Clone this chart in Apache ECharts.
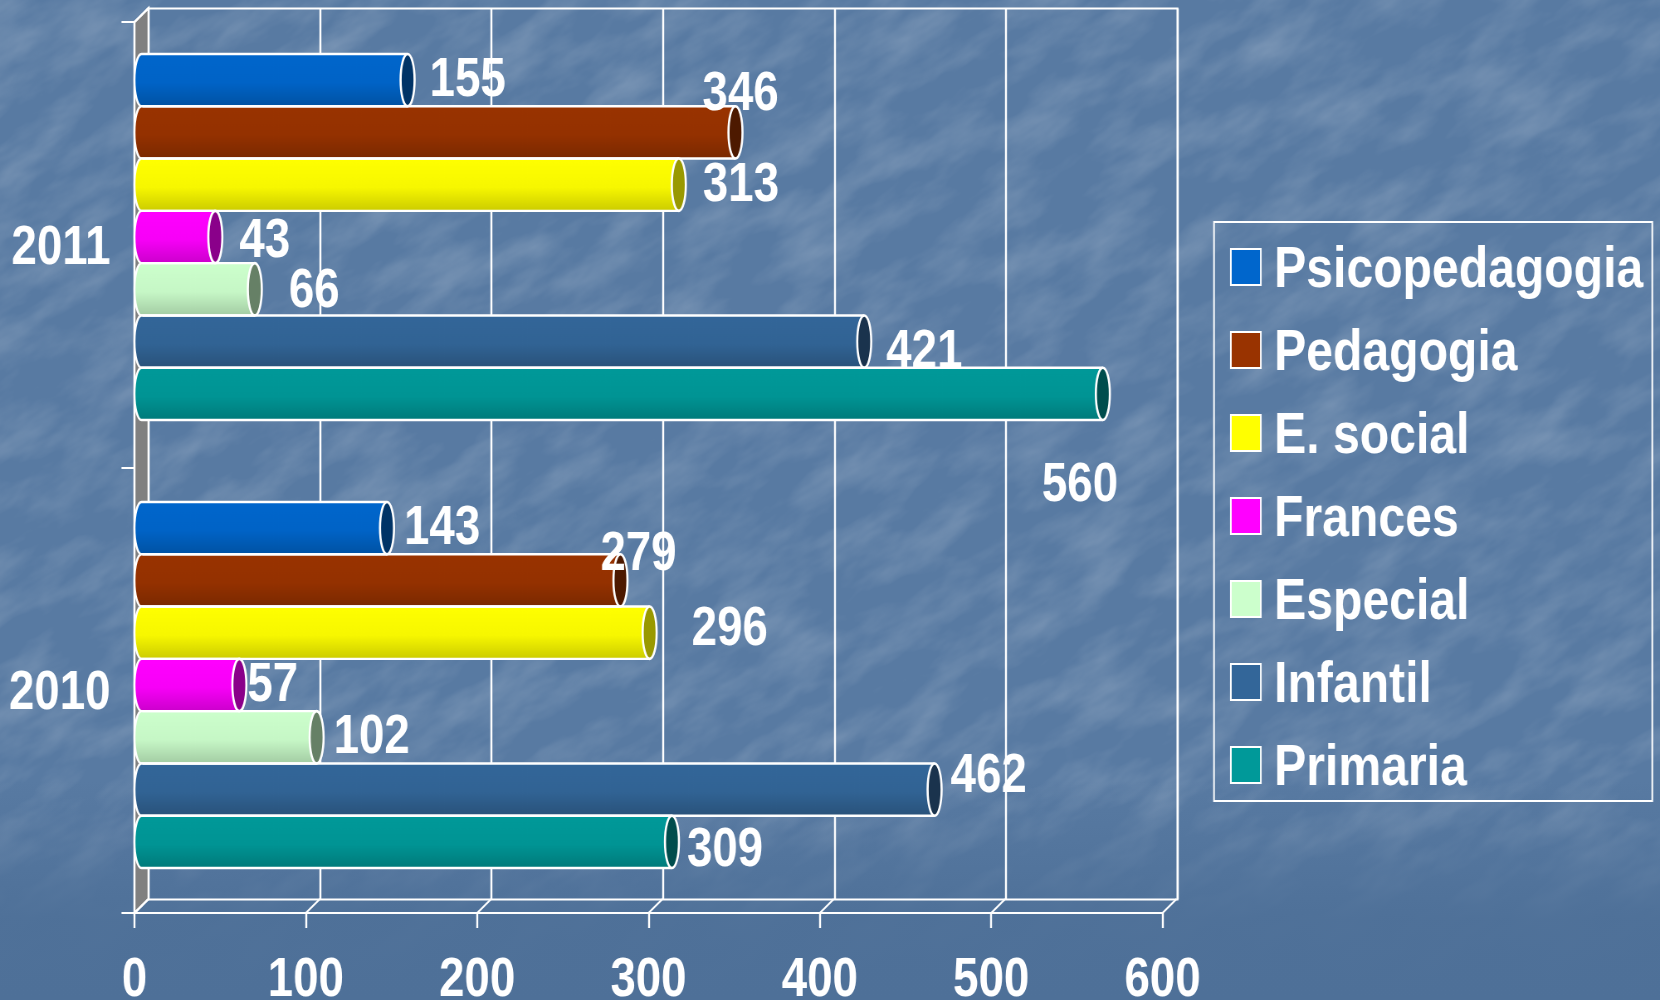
<!DOCTYPE html>
<html>
<head>
<meta charset="utf-8">
<style>
  html, body { margin: 0; padding: 0; width: 1660px; height: 1000px; overflow: hidden; background: #587aa2; }
  #bg { position: absolute; left: 0; top: 0; }
  #fade { position: absolute; left: 0; top: 0; width: 1660px; height: 1000px;
    background: linear-gradient(to bottom, rgba(78,112,152,0) 0%, rgba(78,112,152,0) 78%, rgba(78,112,152,0.95) 92%, #4e7098 100%); }
  /* el original esta comprimido en horizontal: 1660 / 0.83 = 2000 */
  #chart { position: absolute; left: 0; top: 0; width: 2000px; height: 1000px; transform: scaleX(0.83); transform-origin: 0 0; }
</style>
</head>
<body>
<!-- fondo con textura -->
<svg id="bg" width="1660" height="1000">
  <defs>
    <filter id="mottle" x="0" y="0" width="100%" height="100%">
      <feTurbulence type="fractalNoise" baseFrequency="0.012 0.03" numOctaves="4" seed="7"/>
      <feColorMatrix type="matrix" values="0 0 0 0 1  0 0 0 0 1  0 0 0 0 1  1.4 0 0 0 -0.55"/>
    </filter>
  </defs>
  <g transform="rotate(-32 830 500)">
    <rect x="-500" y="-700" width="2700" height="2400" filter="url(#mottle)" opacity="0.26"/>
  </g>
</svg>
<div id="fade"></div>
<div id="chart"></div>
<script src="https://cdn.jsdelivr.net/npm/echarts@6/dist/echarts.min.js"></script>
<script>
const years = ['2011', '2010']
const xTicks = [0, 100, 200, 300, 400, 500, 600]
const names = ['Psicopedagogia', 'Pedagogia', 'E. social', 'Frances', 'Especial', 'Infantil', 'Primaria']

// valores [2011, 2010]
const psicopedagogia = [155, 143]
const pedagogia = [346, 279]
const eSocial = [313, 296]
const frances = [43, 57]
const especial = [66, 102]
const infantil = [421, 462]
const primaria = [560, 309]
const values = [psicopedagogia, pedagogia, eSocial, frances, especial, infantil, primaria]

const colors = ['#0066cc', '#993300', '#ffff00', '#ff00ff', '#ccffcc', '#336699', '#009999']
const capColors = ['#003366', '#4d1900', '#999900', '#8a008a', '#668066', '#1a334d', '#004d4d']

// desplazamiento de cada etiqueta respecto al final de la barra
const labelDx = [[22, 17], [-33, -20], [24, 42], [24, 8], [34, 17], [22, 16], [-61, 15]]
const labelDy = [[1, 1], [-38, -26], [1, -3], [5, 1], [3, 1], [11, -13], [92, 9]]

const SX = 0.83
const px = x => x / SX // pixeles de pantalla a pixeles del lienzo
const BAR_H = 52.3
const CAP_RX = px(7)
const DEPTH = px(14)
const FONT = '"Liberation Sans", Arial, sans-serif'

function shade (hex, k) {
  const n = parseInt(hex.slice(1), 16)
  const c = [n >> 16, (n >> 8) & 255, n & 255].map(v => Math.round(v * k))
  return `rgb(${c[0]},${c[1]},${c[2]})`
}

function barFill (hex) {
  return new echarts.graphic.LinearGradient(0, 0, 0, 1, [
    { offset: 0, color: hex },
    { offset: 0.55, color: shade(hex, 0.97) },
    { offset: 1, color: shade(hex, 0.8) }
  ])
}

const rowOf = (s) => s - (names.length - 1) / 2

// extremos del cilindro: contorno y tapa
function renderCylinder (params, api) {
  const s = api.value(0)
  const cat = api.value(1)
  const p0 = api.coord([0, cat])
  const p1 = api.coord([api.value(2), cat])
  const cy = p0[1] + rowOf(s) * BAR_H
  const top = cy - BAR_H / 2
  const bot = cy + BAR_H / 2
  const edge = `M${p1[0]} ${top}L${p0[0]} ${top}A${CAP_RX} ${BAR_H / 2} 0 0 0 ${p0[0]} ${bot}L${p1[0]} ${bot}`
  return {
    type: 'group',
    children: [
      {
        type: 'path',
        shape: { pathData: `M${p0[0] + 1} ${top}L${p0[0]} ${top}A${CAP_RX} ${BAR_H / 2} 0 0 0 ${p0[0]} ${bot}L${p0[0] + 1} ${bot}Z`, x: p0[0] - CAP_RX, y: top, width: CAP_RX + 1, height: BAR_H },
        style: { fill: barFill(colors[s]), stroke: null }
      },
      {
        type: 'path',
        shape: { pathData: edge, x: p0[0] - CAP_RX, y: top, width: p1[0] - p0[0] + CAP_RX, height: BAR_H },
        style: { fill: null, stroke: '#ffffff', lineWidth: 2.4 }
      },
      {
        type: 'ellipse',
        shape: { cx: p1[0], cy: cy, rx: CAP_RX, ry: BAR_H / 2 },
        style: { fill: capColors[s], stroke: '#ffffff', lineWidth: 2.6 }
      }
    ]
  }
}

function renderValueLabel (params, api) {
  const s = api.value(0)
  const cat = api.value(1)
  const p0 = api.coord([0, cat])
  const p1 = api.coord([api.value(2), cat])
  return {
    type: 'text',
    style: {
      text: String(api.value(2)),
      x: p1[0] + px(labelDx[s][cat]),
      y: p0[1] + rowOf(s) * BAR_H + labelDy[s][cat],
      fill: '#ffffff',
      font: 'bold 55px ' + FONT,
      textAlign: 'left',
      textVerticalAlign: 'middle'
    }
  }
}

// pared izquierda gris
function renderWall (params, api) {
  const a = api.coord([0, 0])
  const b = api.coord([0, 1])
  return {
    type: 'polygon',
    shape: { points: [a, b, [b[0] + DEPTH, b[1] - 14], [a[0] + DEPTH, a[1] - 14]] },
    style: { fill: '#808080', stroke: '#ffffff', lineWidth: 2.4 }
  }
}

// lineas oblicuas del suelo y esquina superior
function renderSlant (params, api) {
  const p = api.coord([api.value(0), api.value(1)])
  return {
    type: 'line',
    shape: { x1: p[0], y1: p[1], x2: p[0] + DEPTH, y2: p[1] - 14 },
    style: { stroke: '#ffffff', lineWidth: 2.2 }
  }
}

const cylData = []
values.forEach((arr, s) => arr.forEach((v, c) => cylData.push([s, c, v])))

const barSeries = names.map((name, s) => ({
  name,
  type: 'bar',
  xAxisIndex: 2,
  yAxisIndex: 3,
  barWidth: BAR_H,
  barGap: '0%',
  data: values[s],
  itemStyle: { color: barFill(colors[s]) },
  z: 3
}))

const chart = echarts.init(document.getElementById('chart'), null, { renderer: 'canvas' })

chart.setOption({
  animation: false,
  backgroundColor: 'transparent',
  textStyle: { fontFamily: FONT },
  legend: {
    orient: 'vertical',
    left: px(1214),
    top: 222,
    padding: [20, px(9), 3, px(16)],
    itemWidth: px(30),
    itemHeight: 36,
    itemGap: 25,
    icon: 'rect',
    borderColor: '#ffffff',
    borderWidth: 2,
    selectedMode: false,
    formatter: '{t|{name}}',
    textStyle: {
      color: '#ffffff',
      rich: { t: { color: '#ffffff', fontFamily: FONT, fontWeight: 'bold', fontSize: 58, padding: [8, 0, 0, 11] } }
    },
    data: names.map((name, s) => ({
      name,
      itemStyle: { color: colors[s], borderColor: '#ffffff', borderWidth: 2 }
    }))
  },
  grid: [
    { outerBoundsMode: 'none', left: px(148.5), top: 8.5, width: px(1029), height: 891, show: true, borderColor: '#ffffff', borderWidth: 2.2, backgroundColor: 'transparent' },
    { outerBoundsMode: 'none', left: px(134.5), top: 22, width: px(1028), height: 891 },
    { outerBoundsMode: 'none', left: px(141.5), top: 13, width: px(1030), height: 896 }
  ],
  xAxis: [
    {
      gridIndex: 0, type: 'value', min: 0, max: 600, interval: 100,
      axisLine: { show: false }, axisTick: { show: false }, axisLabel: { show: false },
      splitLine: { show: true, lineStyle: { color: '#ffffff', width: 2.4 } }
    },
    {
      gridIndex: 1, type: 'value', min: 0, max: 600, interval: 100, position: 'bottom',
      axisLine: { show: true, onZero: false, lineStyle: { color: '#ffffff', width: 2 } },
      axisTick: { show: true, length: 15, lineStyle: { color: '#ffffff', width: 2.4 } },
      axisLabel: { show: true, color: '#ffffff', fontFamily: FONT, fontWeight: 'bold', fontSize: 55, margin: 40, showMinLabel: true, showMaxLabel: true, hideOverlap: false },
      splitLine: { show: false }
    },
    {
      gridIndex: 2, type: 'value', min: 0, max: 600, interval: 100, show: false, splitLine: { show: false }
    }
  ],
  yAxis: [
    { gridIndex: 0, type: 'value', show: false, splitLine: { show: false } },
    {
      gridIndex: 1, type: 'category', inverse: true, data: years,
      axisLine: { show: true, onZero: false, lineStyle: { color: '#ffffff', width: 2.4 } },
      axisTick: { show: true, length: px(13), lineStyle: { color: '#ffffff', width: 2 } },
      axisLabel: {
        color: '#ffffff',
        margin: px(24),
        formatter: '{t|{value}}',
        rich: { t: { color: '#ffffff', fontFamily: FONT, fontWeight: 'bold', fontSize: 55, padding: [8, 0, 0, 0] } }
      }
    },
    { gridIndex: 1, type: 'value', min: 0, max: 1, show: false, splitLine: { show: false } },
    { gridIndex: 2, type: 'category', inverse: true, data: years, show: false }
  ],
  series: [
    {
      name: 'pared', type: 'custom', xAxisIndex: 1, yAxisIndex: 2, silent: true, z: 1,
      renderItem: renderWall, data: [[0, 0]]
    },
    {
      name: 'suelo', type: 'custom', xAxisIndex: 1, yAxisIndex: 2, silent: true, z: 1,
      renderItem: renderSlant, data: xTicks.map(t => [t, 0]).concat([[0, 1]]),
      encode: { x: 0, y: 1 }
    },
    ...barSeries,
    {
      name: 'cilindros', type: 'custom', xAxisIndex: 2, yAxisIndex: 3, silent: true, z: 4,
      renderItem: renderCylinder, data: cylData, encode: { x: 2, y: 1 }
    },
    {
      name: 'valores', type: 'custom', xAxisIndex: 2, yAxisIndex: 3, silent: true, z: 5,
      renderItem: renderValueLabel, data: cylData, encode: { x: 2, y: 1 }
    }
  ]
})
</script>
</body>
</html>
